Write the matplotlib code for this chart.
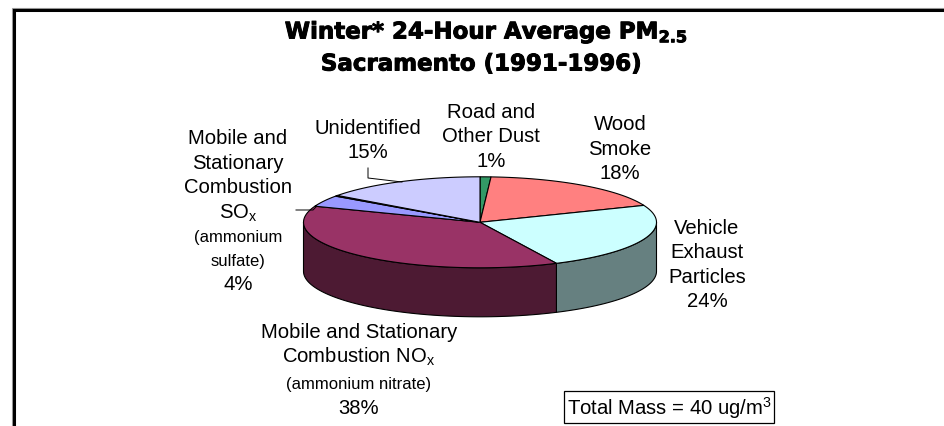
import numpy as np
import matplotlib
matplotlib.use('Agg')
import matplotlib.pyplot as plt
import matplotlib.patheffects as pe
from matplotlib.patches import Polygon

plt.rcParams['font.family'] = ['Liberation Sans', 'DejaVu Sans']
plt.rcParams['mathtext.fontset'] = 'custom'
plt.rcParams['mathtext.rm'] = 'Liberation Sans'
plt.rcParams['mathtext.default'] = 'rm'

# Clockwise from 12 o'clock. The thin black sliver sits between SOx and Unidentified
sources = ['Road and Other Dust', 'Wood Smoke', 'Vehicle Exhaust Particles',
           'NOx', 'SOx', 'Sliver', 'Unidentified']
shares = [1, 18, 24, 38, 4, 0.3, 15]
top_colors = ['#339966', '#FF8080', '#CCFFFF', '#993366', '#9999FF', '#000000', '#CCCCFF']
side_colors = ['#1A4D33', '#804040', '#668080', '#4D1A33', '#4D4D80', '#000000', '#666680']

CX, CY, RX, RY, DEPTH = 480, 223.3, 176.5, 45.5, 49


def rim(a0, a1, dy=0):
    t = np.radians(np.linspace(a0, a1, 80))
    return np.column_stack([CX + RX * np.sin(t), CY - RY * np.cos(t) + dy])


fig = plt.figure(figsize=(9.44, 4.27), dpi=100)
ax = fig.add_axes([0, 0, 1, 1])
ax.set_xlim(0, 944)
ax.set_ylim(427, 0)
ax.axis('off')

# frame of the slide
ax.plot([11.5, 11.5, 944], [427, 8.5, 8.5], color='#999999', lw=0.8, solid_joinstyle='miter')
ax.plot([13.5, 13.5, 944], [427, 10.5, 10.5], color='black', lw=2.2, solid_joinstyle='miter')

edges = np.cumsum([0] + shares) / sum(shares) * 360

# side walls first
for i in range(len(shares)):
    a0, a1 = max(edges[i], 90), min(edges[i + 1], 270)
    if a0 < a1:
        pts = np.vstack([rim(a0, a1), rim(a0, a1, DEPTH)[::-1]])
        ax.add_patch(Polygon(pts, fc=side_colors[i], ec='black', lw=0.8))

# top face
for i in range(len(shares)):
    pts = np.vstack([[CX, CY], rim(edges[i], edges[i + 1])])
    ax.add_patch(Polygon(pts, fc=top_colors[i], ec='black', lw=0.8))

heavy = [pe.withStroke(linewidth=0.7, foreground='black')]
ax.text(486, 33, 'Winter* 24-Hour Average PM$_{\\mathbf{2.5}}$', ha='center', va='center',
        fontsize=16.5, fontweight='bold', family='DejaVu Sans', math_fontfamily='dejavusans',
        path_effects=heavy)
ax.text(481, 65, 'Sacramento (1991-1996)', ha='center', va='center',
        fontsize=16.5, fontweight='bold', family='DejaVu Sans', path_effects=heavy)

LABEL = 14.6
SMALL = 12


def stack(x, ys, lines, sizes=None):
    for k, (y, line) in enumerate(zip(ys, lines)):
        size = sizes[k] if sizes else LABEL
        ax.text(x, y + 1, line, ha='center', va='center', fontsize=size)


stack(491, [111, 136, 161], ['Road and', 'Other Dust', '1%'])
stack(620, [124, 149, 173], ['Wood', 'Smoke', '18%'])
stack(707, [228, 252, 277, 301], ['Vehicle', 'Exhaust', 'Particles', '24%'])
stack(368, [128, 152], ['Unidentified', '15%'])
stack(238, [138, 163, 187, 212, 237, 261, 284],
      ['Mobile and', 'Stationary', 'Combustion', 'SO$_{\\mathrm{x}}$', '(ammonium', 'sulfate)', '4%'],
      [LABEL, LABEL, LABEL, LABEL, SMALL, SMALL, LABEL])
stack(359, [332, 356, 384, 408],
      ['Mobile and Stationary', 'Combustion NO$_{\\mathrm{x}}$', '(ammonium nitrate)', '38%'],
      [LABEL, LABEL, SMALL, LABEL])

# leader lines
ax.plot([368, 368, 402], [169, 179, 183], color='black', lw=0.7)
ax.plot([296, 313, 316], [211, 211, 208], color='black', lw=0.7)

ax.text(669, 408, 'Total Mass = 40 ug/m$^{3}$', ha='center', va='center', fontsize=LABEL,
        bbox=dict(boxstyle='square,pad=0.15', fc='white', ec='black', lw=0.9))

fig.savefig('out.png', dpi=100)
